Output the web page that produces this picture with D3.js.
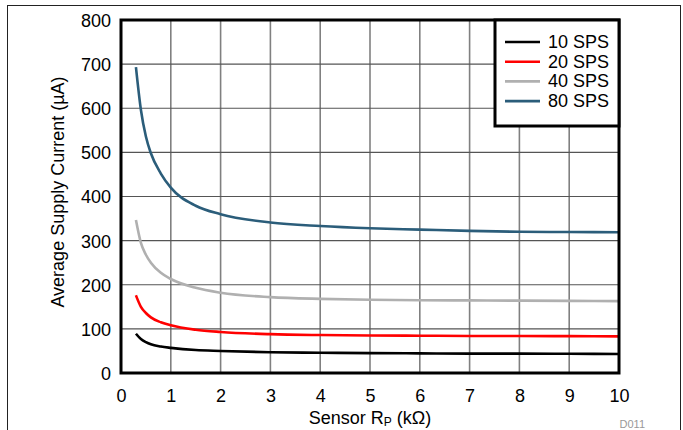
<!DOCTYPE html>
<html><head><meta charset="utf-8">
<script src="https://cdn.jsdelivr.net/npm/d3@7"></script>
<style>body{margin:0;background:#fff}svg{display:block;font-family:"Liberation Sans",Arial,sans-serif}</style>
</head><body>
<svg id="c" width="683" height="430"></svg>
<script>
const seriesNames = ["10 SPS","20 SPS","40 SPS","80 SPS"];
const seriesColors = ["#000000","#ff0000","#b0b0b0","#2b5d7a"];
const rp = [0.3,0.4,0.5,0.6,0.8,1,1.5,2,3,4,5,6,7,8,9,10];
const sps10 = [89,77,70,65,60,57,52,50,47,46,45,44.5,44,44,43.5,43];
const sps20 = [176,150,136,126,115,108,98,93,88,86,85,84.5,84,84,83.5,83];
const sps40 = [347,295,268,250,227,213,193,182,172,168,166,165,164.5,164,163.5,163];
const sps80 = [693,596,536,498,452,420,379,360,341,333,328,325,322,320,319.5,319];
const xTicks = [0,1,2,3,4,5,6,7,8,9,10];
const yTicks = [0,100,200,300,400,500,600,700,800];
const allSeries = [sps10,sps20,sps40,sps80];

const FS = 18;
const svg = d3.select("#c");
const L=121, R=619, T=20, B=373;
const x = d3.scaleLinear().domain([0,10]).range([L,R]);
const y = d3.scaleLinear().domain([0,800]).range([B,T]);

// outer frame
svg.append("rect").attr("x",7.5).attr("y",5.5).attr("width",673).attr("height",440)
  .attr("fill","none").attr("stroke","#222").attr("stroke-width",1);

// grid
svg.append("g").selectAll("line").data(xTicks.slice(1,-1)).join("line")
  .attr("x1",d=>x(d)).attr("x2",d=>x(d)).attr("y1",T).attr("y2",B)
  .attr("stroke","#808080").attr("stroke-width",1.6);
svg.append("g").selectAll("line").data(yTicks.slice(1,-1)).join("line")
  .attr("x1",L).attr("x2",R).attr("y1",d=>y(d)).attr("y2",d=>y(d))
  .attr("stroke","#555").attr("stroke-width",1.2);

// axes labels via d3 axis
const xAxis = svg.append("g").attr("transform",`translate(0,${B})`)
  .call(d3.axisBottom(x).tickValues(xTicks).tickSize(0).tickFormat(d3.format("d")));
xAxis.select(".domain").remove();
xAxis.selectAll("text").attr("y",29).attr("dy",0).attr("font-size",FS).attr("fill","#000")
  .attr("font-family","Liberation Sans, Arial, sans-serif");
const yAxis = svg.append("g").attr("transform",`translate(${L},0)`)
  .call(d3.axisLeft(y).tickValues(yTicks).tickSize(0).tickPadding(10).tickFormat(d3.format("d")));
yAxis.select(".domain").remove();
yAxis.selectAll("text").attr("dy","0.36em").attr("font-size",FS).attr("fill","#000")
  .attr("font-family","Liberation Sans, Arial, sans-serif");

// curves
svg.append("clipPath").attr("id","pc").append("rect").attr("x",L).attr("y",T).attr("width",R-L).attr("height",B-T);
const line = d3.line().x((d,i)=>x(rp[i])).y(d=>y(d)).curve(d3.curveMonotoneX);
allSeries.forEach((s,k)=>{
  svg.append("path").datum(s).attr("d",line).attr("fill","none")
    .attr("stroke",seriesColors[k]).attr("stroke-width",2.6).attr("clip-path","url(#pc)");
});

// plot border
svg.append("rect").attr("x",L).attr("y",T).attr("width",R-L).attr("height",B-T)
  .attr("fill","none").attr("stroke","#000").attr("stroke-width",3);

// legend
const lg = svg.append("g");
lg.append("rect").attr("x",495).attr("y",T).attr("width",R-495).attr("height",106)
  .attr("fill","#fff").attr("stroke","#000").attr("stroke-width",3);
seriesNames.forEach((n,k)=>{
  const yy = 42 + k*19.7;
  lg.append("line").attr("x1",505).attr("x2",540).attr("y1",yy).attr("y2",yy)
    .attr("stroke",seriesColors[k]).attr("stroke-width",2.6);
  lg.append("text").attr("x",548).attr("y",yy+6).attr("font-size",FS).text(n);
});

// axis titles
const xt = svg.append("text").attr("x",370).attr("y",424).attr("text-anchor","middle").attr("font-size",FS);
xt.append("tspan").text("Sensor R");
xt.append("tspan").attr("font-size",12).attr("dy",2).text("P");
xt.append("tspan").attr("dy",-2).text(" (kΩ)");
svg.append("text").attr("transform","translate(64,192) rotate(-90)").attr("text-anchor","middle")
  .attr("font-size",FS).text("Average Supply Current (µA)");
svg.append("text").attr("x",645).attr("y",428).attr("text-anchor","end").attr("font-size",11).attr("fill","#999").text("D011");
</script>
</body></html>
